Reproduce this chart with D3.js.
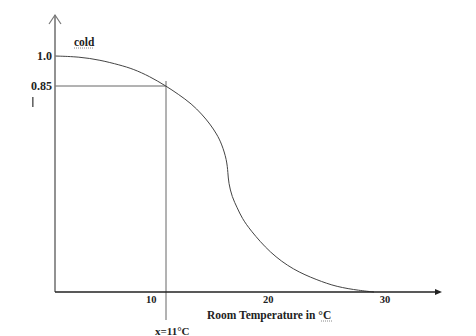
<!DOCTYPE html>
<html>
<head>
	<title>Cooling curve</title>
	<script src="https://d3js.org/d3.v7.min.js" charset="utf-8"></script>
	<style>
		body { margin: 0; background: #fff; }
		text { font-family: "Liberation Serif", "Times New Roman", serif; font-weight: bold; fill: #222; }
	</style>
</head>
<body>
<script type="text/javascript">
	// data
	var tempValues = [1.5, 3.6, 5.35, 7.05, 8.2, 9.6, 11, 12.03, 13.2, 14.06, 14.77, 15.34, 15.77, 16.2, 16.3, 16.36, 16.65, 17.1, 17.5, 18.2, 19.9, 21.9, 23.9, 25.6, 27.6, 28.8];
	var levelValues = [1.0, 0.996, 0.98, 0.955, 0.935, 0.898, 0.85, 0.817, 0.776, 0.734, 0.693, 0.652, 0.611, 0.545, 0.491, 0.45, 0.392, 0.347, 0.305, 0.256, 0.161, 0.091, 0.05, 0.021, 0.006, 0];
	var xTicks = [10, 20, 30];
	var yTicks = [1.0, 0.85];
	var yTickLabels = ["1.0", "0.85"];
	var markX = 11, markY = 0.85;

	var svgWidth = 476, svgHeight = 336;

	var svg = d3.select("body")
		.append("svg")
		.attr("width", svgWidth)
		.attr("height", svgHeight);

	// the sketch is not to scale, so y uses a piecewise scale through the labelled levels
	var x = d3.scaleLinear().domain([11, 30]).range([166, 388]);
	var y = d3.scaleLinear().domain([0, 0.85, 1]).range([292, 86, 56]);

	var x0 = 55, xEnd = 442, yTop = 15;

	// guide lines
	svg.append("line")
		.attr("x1", x0).attr("x2", x(markX))
		.attr("y1", y(markY)).attr("y2", y(markY))
		.attr("stroke", "#666").attr("stroke-width", 1);
	svg.append("line")
		.attr("x1", x(markX)).attr("x2", x(markX))
		.attr("y1", y(markY) - 5).attr("y2", 320)
		.attr("stroke", "#666").attr("stroke-width", 1);

	// curve
	var data = tempValues.map(function(t, i) { return {t: t, v: levelValues[i]}; });
	var line = d3.line()
		.x(function(d) { return x(d.t); })
		.y(function(d) { return y(d.v); })
		.curve(d3.curveBasis);
	svg.append("path")
		.datum(data)
		.attr("d", line)
		.attr("fill", "none")
		.attr("stroke", "#444")
		.attr("stroke-width", 1);

	// y axis with open arrow
	svg.append("line")
		.attr("x1", x0).attr("x2", x0)
		.attr("y1", yTop).attr("y2", 292)
		.attr("stroke", "#777").attr("stroke-width", 1.6);
	svg.append("path")
		.attr("d", "M" + (x0 - 6) + "," + (yTop + 9) + "L" + x0 + "," + yTop + "L" + (x0 + 6) + "," + (yTop + 9))
		.attr("fill", "none").attr("stroke", "#777").attr("stroke-width", 1.2);

	// x axis with filled arrow
	svg.append("line")
		.attr("x1", x0).attr("x2", xEnd - 4)
		.attr("y1", 292).attr("y2", 292)
		.attr("stroke", "#222").attr("stroke-width", 1.3);
	svg.append("path")
		.attr("d", "M" + (xEnd - 7) + ",289L" + xEnd + ",292L" + (xEnd - 7) + ",295Z")
		.attr("fill", "#222");

	// tick labels
	svg.selectAll(".xtick")
		.data(xTicks)
		.enter()
		.append("text")
		.attr("class", "xtick")
		.attr("x", function(d) { return x(d) - 3; })
		.attr("y", 303)
		.attr("text-anchor", "middle")
		.attr("font-size", 10.5)
		.text(function(d) { return d; });

	svg.selectAll(".ytick")
		.data(yTicks)
		.enter()
		.append("text")
		.attr("class", "ytick")
		.attr("x", 52)
		.attr("y", function(d) { return y(d) + 4; })
		.attr("text-anchor", "end")
		.attr("font-size", 12)
		.text(function(d, i) { return yTickLabels[i]; });

	// y label mark
	svg.append("rect")
		.attr("x", 32).attr("y", 97)
		.attr("width", 1.6).attr("height", 10)
		.attr("fill", "#666");

	// "cold"
	svg.append("text")
		.attr("x", 74).attr("y", 46)
		.attr("font-size", 11.5)
		.text("cold");
	svg.append("line")
		.attr("x1", 74).attr("x2", 94).attr("y1", 48).attr("y2", 48)
		.attr("stroke", "#888").attr("stroke-dasharray", "1,1");

	// axis title
	var title = svg.append("text")
		.attr("x", 207).attr("y", 319)
		.attr("font-size", 11.5);
	title.append("tspan").text("Room Temperature in ");
	title.append("tspan").text("°C");
	svg.append("line")
		.attr("x1", 321).attr("x2", 333).attr("y1", 321).attr("y2", 321)
		.attr("stroke", "#888").attr("stroke-dasharray", "1,1");

	svg.append("text")
		.attr("x", 155).attr("y", 335)
		.attr("font-size", 11)
		.text("x=" + markX + "°C");
</script>
</body>
</html>
